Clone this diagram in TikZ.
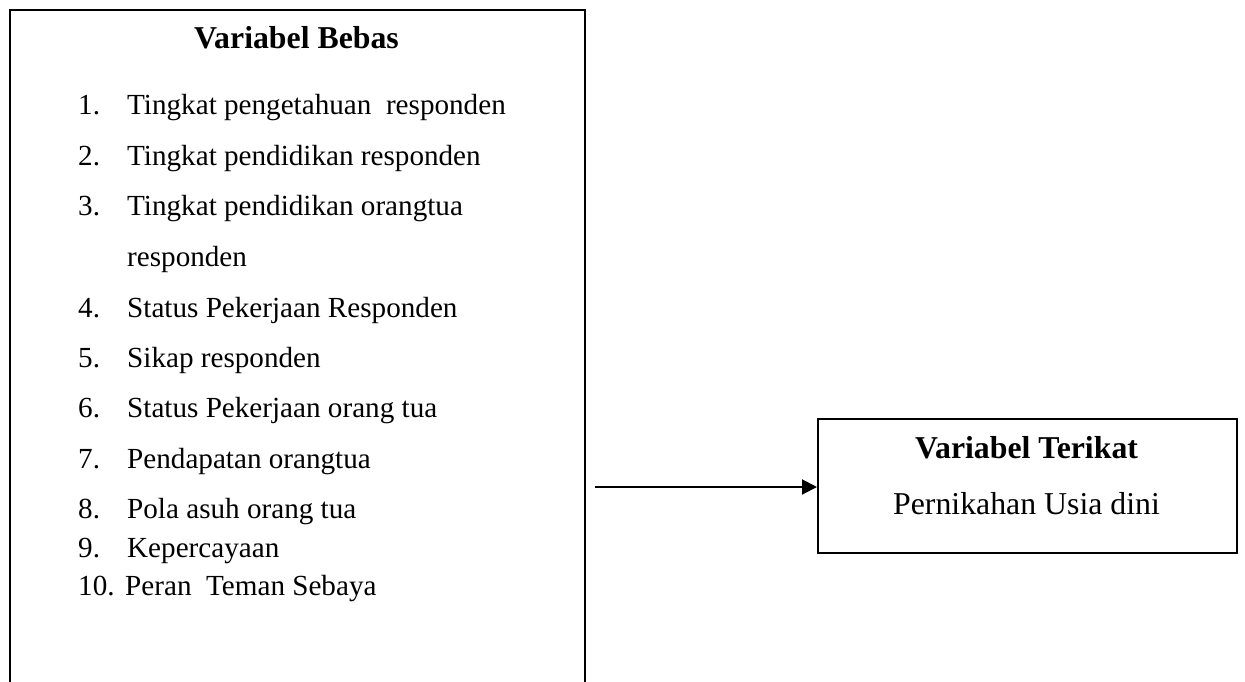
\documentclass[tikz,border=0pt]{standalone}
\usepackage{fontspec}
\setmainfont{Liberation Serif}
\usetikzlibrary{arrows.meta}
\begin{document}
\begin{tikzpicture}[x=1pt,y=-1pt,
  frame/.style={draw=black,line width=2pt,rectangle,inner sep=0pt},
  txt/.style={font=\fontsize{31.8}{38}\selectfont,inner sep=0pt},
  item/.style={font=\fontsize{29.15}{35}\selectfont,inner sep=0pt,anchor=base west},
  head/.style={font=\fontsize{31.8}{38}\selectfont\bfseries,inner sep=0pt,anchor=base},
  conn/.style={line width=2pt,-{Triangle[length=15pt,width=15pt]}}]
\useasboundingbox (0,0) rectangle (1245,681);
\fill[white] (0,0) rectangle (1245,681);
% left box (bottom runs past the picture)
\node[frame,minimum width=575pt,minimum height=720pt,anchor=north west] (bebas) at (9,9) {};
\node[head] (hb) at (296.5,48) {Variabel Bebas};
\node[item] (n1) at (78,114) {1.};   \node[item] (t1) at (127,114) {Tingkat pengetahuan\ \ responden};
\node[item] (n2) at (78,165) {2.};   \node[item] (t2) at (127,165) {Tingkat pendidikan responden};
\node[item] (n3) at (78,215) {3.};   \node[item] (t3) at (127,215) {Tingkat pendidikan orangtua};
\node[item] (t3b) at (127,266) {responden};
\node[item] (n4) at (78,317) {4.};   \node[item] (t4) at (127,317) {Status Pekerjaan Responden};
\node[item] (n5) at (78,367) {5.};   \node[item] (t5) at (127,367) {Sikap responden};
\node[item] (n6) at (78,417) {6.};   \node[item] (t6) at (127,417) {Status Pekerjaan orang tua};
\node[item] (n7) at (78,468) {7.};   \node[item] (t7) at (127,468) {Pendapatan orangtua};
\node[item] (n8) at (78,518) {8.};   \node[item] (t8) at (127,518) {Pola asuh orang tua};
\node[item] (n9) at (78,557) {9.};   \node[item] (t9) at (127,557) {Kepercayaan};
\node[item] (n10) at (78,595) {10.}; \node[item] (t10) at (125,595) {Peran\ \ Teman Sebaya};
% right box
\node[frame,minimum width=419pt,minimum height=134pt,anchor=north west] (terikat) at (817,418) {};
\node[head] (ht) at (1026.5,458) {Variabel Terikat};
\node[txt,anchor=base] (pt) at (1026.5,514) {Pernikahan Usia dini};
% connector
\coordinate (s) at (595,487);
\draw[conn] (s) -- (s -| terikat.west);
\end{tikzpicture}
\end{document}
